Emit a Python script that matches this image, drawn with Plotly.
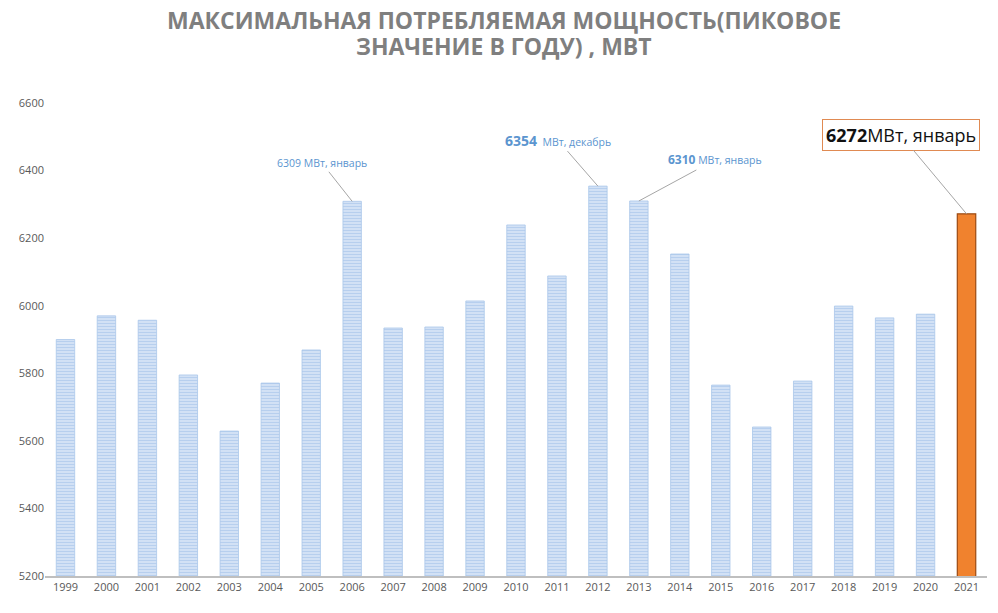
import plotly.graph_objects as go

years = ["1999", "2000", "2001", "2002", "2003", "2004", "2005", "2006", "2007", "2008",
         "2009", "2010", "2011", "2012", "2013", "2014", "2015", "2016", "2017", "2018",
         "2019", "2020", "2021"]
peak_mw = [5900, 5970, 5957, 5795, 5629, 5771, 5869, 6309, 5934, 5937,
           6014, 6239, 6088, 6354, 6310, 6153, 5765, 5641, 5777, 5999,
           5964, 5975, 6272]
y_ticks = [5200, 5400, 5600, 5800, 6000, 6200, 6400, 6600]

title_line1 = "МАКСИМАЛЬНАЯ ПОТРЕБЛЯЕМАЯ МОЩНОСТЬ(ПИКОВОЕ"
title_line2 = "ЗНАЧЕНИЕ В ГОДУ) , МВТ"

n = len(years)
idx = list(range(n))
last = n - 1

fig = go.Figure()
fig.add_trace(go.Bar(
    x=idx[:last], y=peak_mw[:last],
    marker=dict(
        color="#dce8f7",
        line=dict(color="#a9c6ea", width=0.8),
        pattern=dict(shape="-", fillmode="overlay", fgcolor="#8fb4e4", bgcolor="#dfeaf8",
                     size=3, solidity=0.55),
    ),
    width=0.45,
    customdata=years[:last],
    hovertemplate="%{customdata}: %{y}<extra></extra>",
))
fig.add_trace(go.Bar(
    x=idx[last:], y=peak_mw[last:],
    marker=dict(color="#f0822e", line=dict(color="#9c4a12", width=1.2)),
    width=0.45,
    customdata=years[last:],
    hovertemplate="%{customdata}: %{y}<extra></extra>",
))

blue = "#5b95cf"
grey_line = "#a6a6a6"
fig.add_annotation(x=7, y=peak_mw[7], text="6309 МВт, январь",
                   showarrow=True, arrowhead=0, arrowwidth=1, arrowcolor=grey_line,
                   ax=-30, ay=-38, font=dict(family="Open Sans", size=10.5, color=blue))
fig.add_annotation(x=13, y=peak_mw[13],
                   text="<b><span style='font-size:14px'>6354</span></b>  МВт, декабрь",
                   showarrow=True, arrowhead=0, arrowwidth=1, arrowcolor=grey_line,
                   ax=-40, ay=-46, font=dict(family="Open Sans", size=10.5, color=blue))
fig.add_annotation(x=14, y=peak_mw[14],
                   text="<b><span style='font-size:12px'>6310</span></b> МВт, январь",
                   showarrow=True, arrowhead=0, arrowwidth=1, arrowcolor=grey_line,
                   ax=76, ay=-41, font=dict(family="Open Sans", size=10.5, color=blue))
fig.add_annotation(x=22, y=peak_mw[22],
                   text="<b>6272</b>МВт, январь",
                   showarrow=True, arrowhead=0, arrowwidth=1, arrowcolor=grey_line,
                   ax=-66, ay=-79, bgcolor="white", bordercolor="#e08a52", borderwidth=1,
                   borderpad=3,
                   font=dict(family="Open Sans", size=18, color="#111111"))

title_font = dict(family="Open Sans", size=23, color="#7f7f7f", weight="bold")
fig.add_annotation(text=title_line1, xref="paper", yref="paper", x=0.487, y=1.175,
                   xanchor="center", yanchor="middle", showarrow=False, font=title_font)
fig.add_annotation(text=title_line2, xref="paper", yref="paper", x=0.487, y=1.1195,
                   xanchor="center", yanchor="middle", showarrow=False, font=title_font)

fig.update_layout(
    width=982, height=597,
    paper_bgcolor="white", plot_bgcolor="white",
    margin=dict(l=37, r=3, t=95, b=29),
    showlegend=False, barmode="overlay",
    font=dict(family="Open Sans", color="#595959"),
)
fig.update_xaxes(range=[-0.5, n - 0.5], tickvals=idx, ticktext=years, showgrid=False,
                 zeroline=False, showline=True, linecolor="#bfbfbf",
                 linewidth=2, ticks="", tickfont=dict(size=11, color="#595959"))
fig.update_yaxes(range=[5200, 6600], tickvals=y_ticks, showgrid=False, zeroline=False,
                 showline=False, ticks="", tickfont=dict(size=11, color="#595959"))

fig.write_html("out.html")
